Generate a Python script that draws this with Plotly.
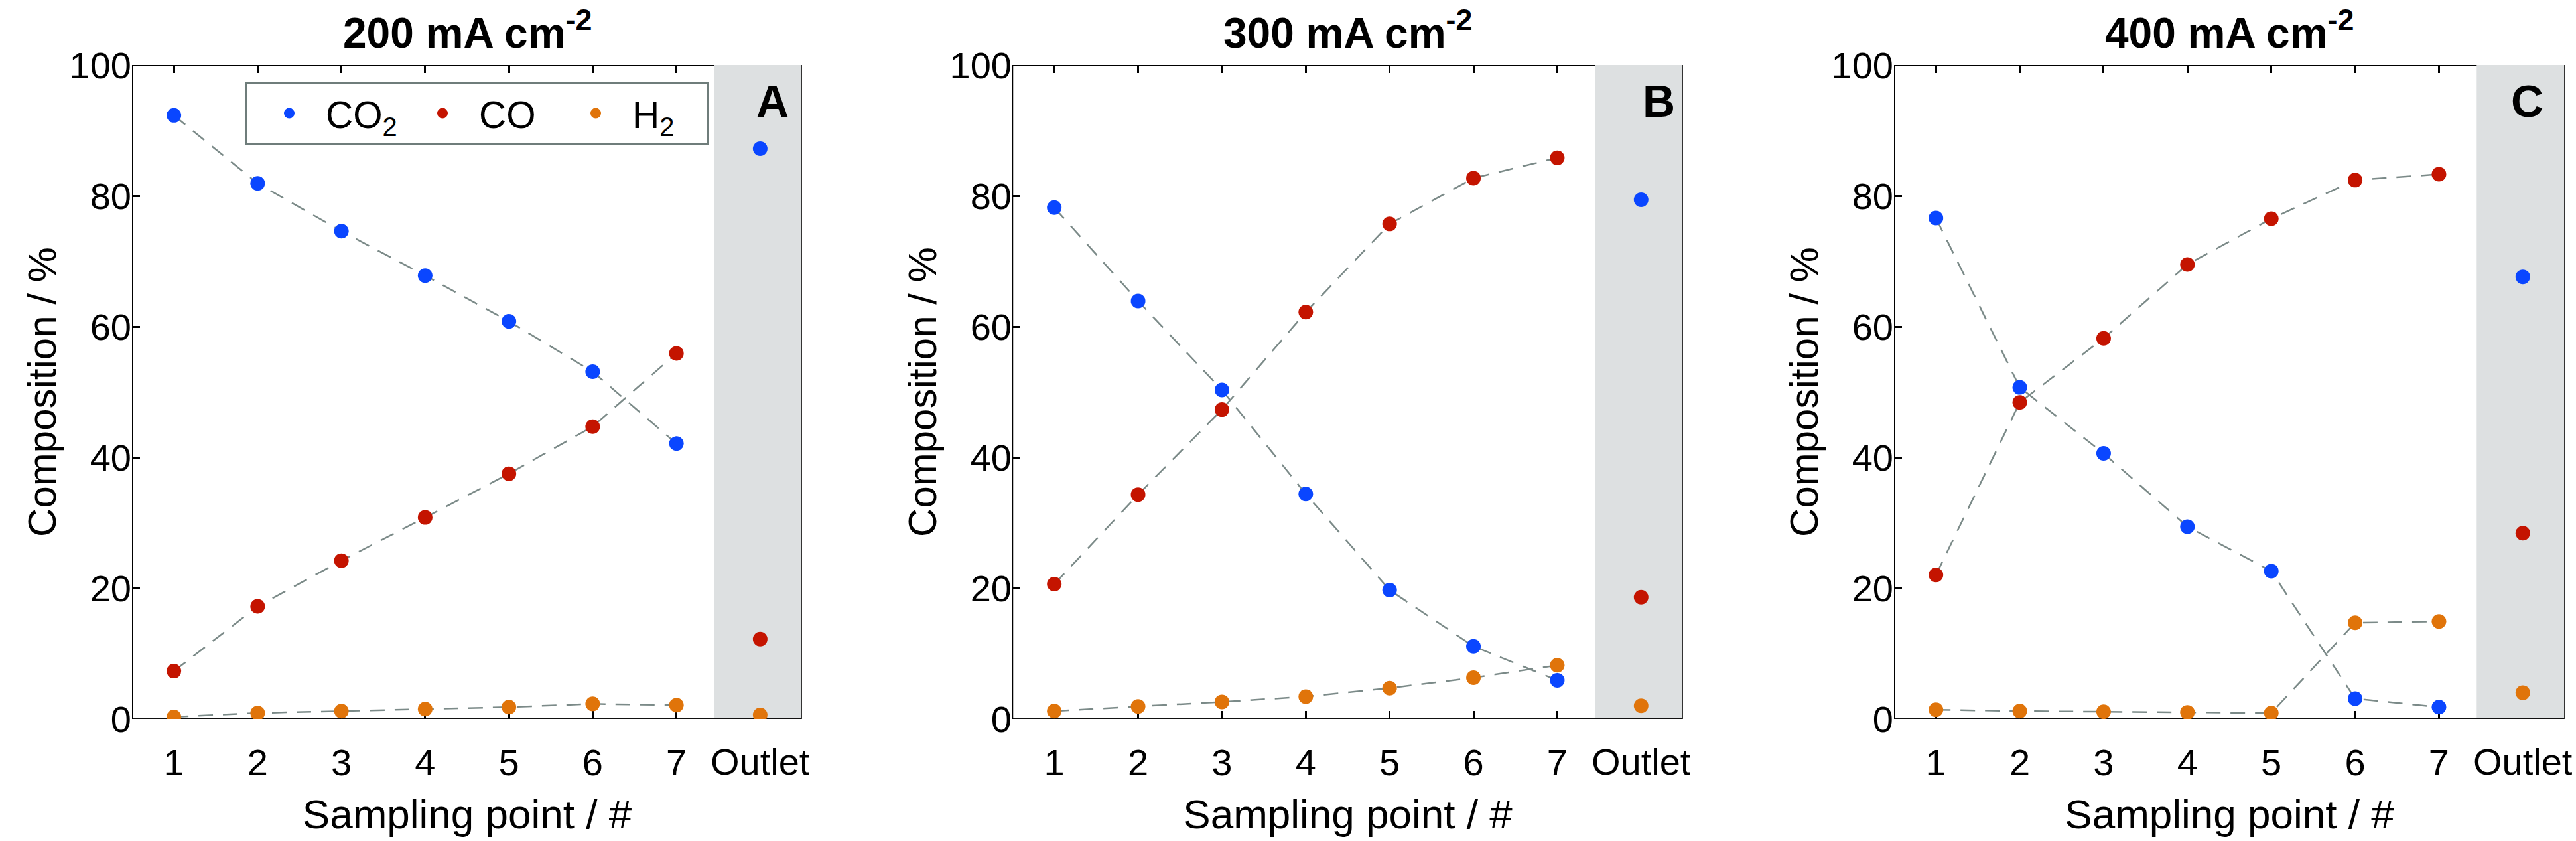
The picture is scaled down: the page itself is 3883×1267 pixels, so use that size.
import plotly.graph_objects as go

# ---------------- data ----------------
points = [1, 2, 3, 4, 5, 6, 7]
outlet_pos = [8]
x_ticklabels = ["1", "2", "3", "4", "5", "6", "7"]
outlet_label = "Outlet"
y_ticks = [0, 20, 40, 60, 80, 100]

panel_titles = ["200 mA cm<sup>-2</sup>", "300 mA cm<sup>-2</sup>", "400 mA cm<sup>-2</sup>"]
panel_letters = ["A", "B", "C"]
gas_names = ["CO<sub>2</sub>", "CO", "H<sub>2</sub>"]

co2_A = [92.3, 81.9, 74.6, 67.8, 60.8, 53.1, 42.1]
co_A = [7.3, 17.2, 24.2, 30.8, 37.5, 44.7, 55.9]
h2_A = [0.3, 0.9, 1.2, 1.5, 1.8, 2.3, 2.1]
outlet_A = [87.2, 12.2, 0.6]  # CO2, CO, H2

co2_B = [78.2, 63.9, 50.3, 34.4, 19.7, 11.1, 5.9]
co_B = [20.6, 34.3, 47.3, 62.2, 75.7, 82.7, 85.8]
h2_B = [1.2, 1.9, 2.6, 3.4, 4.7, 6.3, 8.2]
outlet_B = [79.4, 18.6, 2.0]

co2_C = [76.6, 50.7, 40.6, 29.4, 22.6, 3.1, 1.8]
co_C = [22.0, 48.4, 58.2, 69.5, 76.5, 82.4, 83.3]
h2_C = [1.4, 1.2, 1.1, 1.0, 0.9, 14.7, 14.9]
outlet_C = [67.6, 28.4, 4.0]

panels = [
    ([co2_A, co_A, h2_A], outlet_A),
    ([co2_B, co_B, h2_B], outlet_B),
    ([co2_C, co_C, h2_C], outlet_C),
]

# ---------------- style ----------------
W, H = 3883, 1267
FONT = "Liberation Sans, Arial, Helvetica, sans-serif"
colors = ["#0a46ff", "#c41400", "#e0740a"]
line_col = "#7b8a88"
grey_fill = "#dde0e1"
x_domains = [[199 / W, 1209 / W], [1526 / W, 2537 / W], [2855 / W, 3866 / W]]
y_domain = [1 - 1083 / H, 1 - 98 / H]
letter_px = [1164, 2500, 3809]
grey_start = 7.45

fig = go.Figure()

for i, (series, outlet) in enumerate(panels):
    xa = "x" if i == 0 else f"x{i+1}"
    ya = "y" if i == 0 else f"y{i+1}"
    # dashed connecting lines first
    for s in series:
        fig.add_trace(go.Scatter(
            x=points, y=s, mode="lines", xaxis=xa, yaxis=ya,
            line=dict(color=line_col, width=2.5, dash="22px,15px"),
            showlegend=False, hoverinfo="skip"))
    # markers
    for g, s in enumerate(series):
        fig.add_trace(go.Scatter(
            x=points, y=s, mode="markers", xaxis=xa, yaxis=ya,
            marker=dict(color=colors[g], size=22, line=dict(width=0)),
            name=gas_names[g], legendgroup=gas_names[g],
            showlegend=(i == 0)))
    for g in range(3):
        fig.add_trace(go.Scatter(
            x=outlet_pos, y=[outlet[g]], mode="markers", xaxis=xa, yaxis=ya,
            marker=dict(color=colors[g], size=22, line=dict(width=0)),
            name=gas_names[g], legendgroup=gas_names[g], showlegend=False))

shapes = []
annotations = []
layout = {}
for i in range(3):
    xk = "xaxis" if i == 0 else f"xaxis{i+1}"
    yk = "yaxis" if i == 0 else f"yaxis{i+1}"
    xr = "x" if i == 0 else f"x{i+1}"
    yr = "y" if i == 0 else f"y{i+1}"
    layout[xk] = dict(
        domain=x_domains[i], anchor=yr, range=[0.5, 8.5],
        tickmode="array", tickvals=points, ticktext=x_ticklabels,
        ticks="inside", ticklen=12, tickwidth=2.5, tickcolor="black",
        mirror="ticks", showline=False, showgrid=False, zeroline=False,
        tickfont=dict(family=FONT, size=56, color="black"), ticklabelstandoff=28,
        title=dict(text="Sampling point / #", font=dict(family=FONT, size=62, color="black"), standoff=25),
        layer="below traces", automargin=False, fixedrange=True)
    layout[yk] = dict(
        domain=y_domain, anchor=xr, range=[0, 100],
        tickmode="array", tickvals=y_ticks,
        ticks="inside", ticklen=12, tickwidth=2.5, tickcolor="black",
        showline=False, showgrid=False, zeroline=False,
        tickfont=dict(family=FONT, size=56, color="black"),
        title=dict(text="Composition / %", font=dict(family=FONT, size=60, color="black"), standoff=0),
        layer="below traces", automargin=False, fixedrange=True)
    # grey outlet region and frame
    shapes.append(dict(type="rect", xref=xr, yref=yr, x0=grey_start, x1=8.5, y0=0, y1=100,
                       fillcolor=grey_fill, line=dict(width=0), layer="below"))
    shapes.append(dict(type="line", xref=xr, yref=yr, x0=0.5, x1=grey_start, y0=100, y1=100,
                       line=dict(color="black", width=2.5), layer="below"))
    shapes.append(dict(type="line", xref=xr, yref=yr, x0=0.5, x1=8.5, y0=0, y1=0,
                       line=dict(color="#111111", width=2.5), layer="below"))
    shapes.append(dict(type="line", xref=xr, yref=yr, x0=0.5, x1=0.5, y0=0, y1=100,
                       line=dict(color="black", width=2.5), layer="below"))
    shapes.append(dict(type="line", xref=xr, yref=yr, x0=8.5, x1=8.5, y0=0, y1=100,
                       line=dict(color="#333333", width=2), layer="below"))
    # outlet tick label
    annotations.append(dict(x=8, xref=xr, y=1 - 1147 / H, yref="paper", text=outlet_label,
                            showarrow=False, xanchor="center", yanchor="middle",
                            font=dict(family=FONT, size=56, color="black")))
    # panel title
    annotations.append(dict(x=sum(x_domains[i]) / 2, xref="paper", y=1 - 88 / H, yref="paper",
                            text="<b>" + panel_titles[i] + "</b>", showarrow=False,
                            xanchor="center", yanchor="bottom",
                            font=dict(family=FONT, size=64, color="black")))
    # panel letter
    annotations.append(dict(x=letter_px[i] / W, xref="paper", y=1 - 152 / H, yref="paper",
                            text="<b>" + panel_letters[i] + "</b>", showarrow=False,
                            xanchor="center", yanchor="middle",
                            font=dict(family=FONT, size=68, color="black")))

fig.update_layout(
    width=W, height=H, margin=dict(l=0, r=0, t=0, b=0),
    paper_bgcolor="white", plot_bgcolor="white",
    font=dict(family=FONT, color="black"),
    shapes=shapes, annotations=annotations,
    legend=dict(x=370 / W, y=1 - 124 / H, xanchor="left", yanchor="top",
                orientation="h", bgcolor="white", bordercolor="#6f7d7b", borderwidth=3,
                font=dict(family=FONT, size=57, color="black"),
                itemwidth=100, entrywidth=108, entrywidthmode="pixels", indentation=8,
                traceorder="normal"),
    **layout)

fig.write_html("out.html")
